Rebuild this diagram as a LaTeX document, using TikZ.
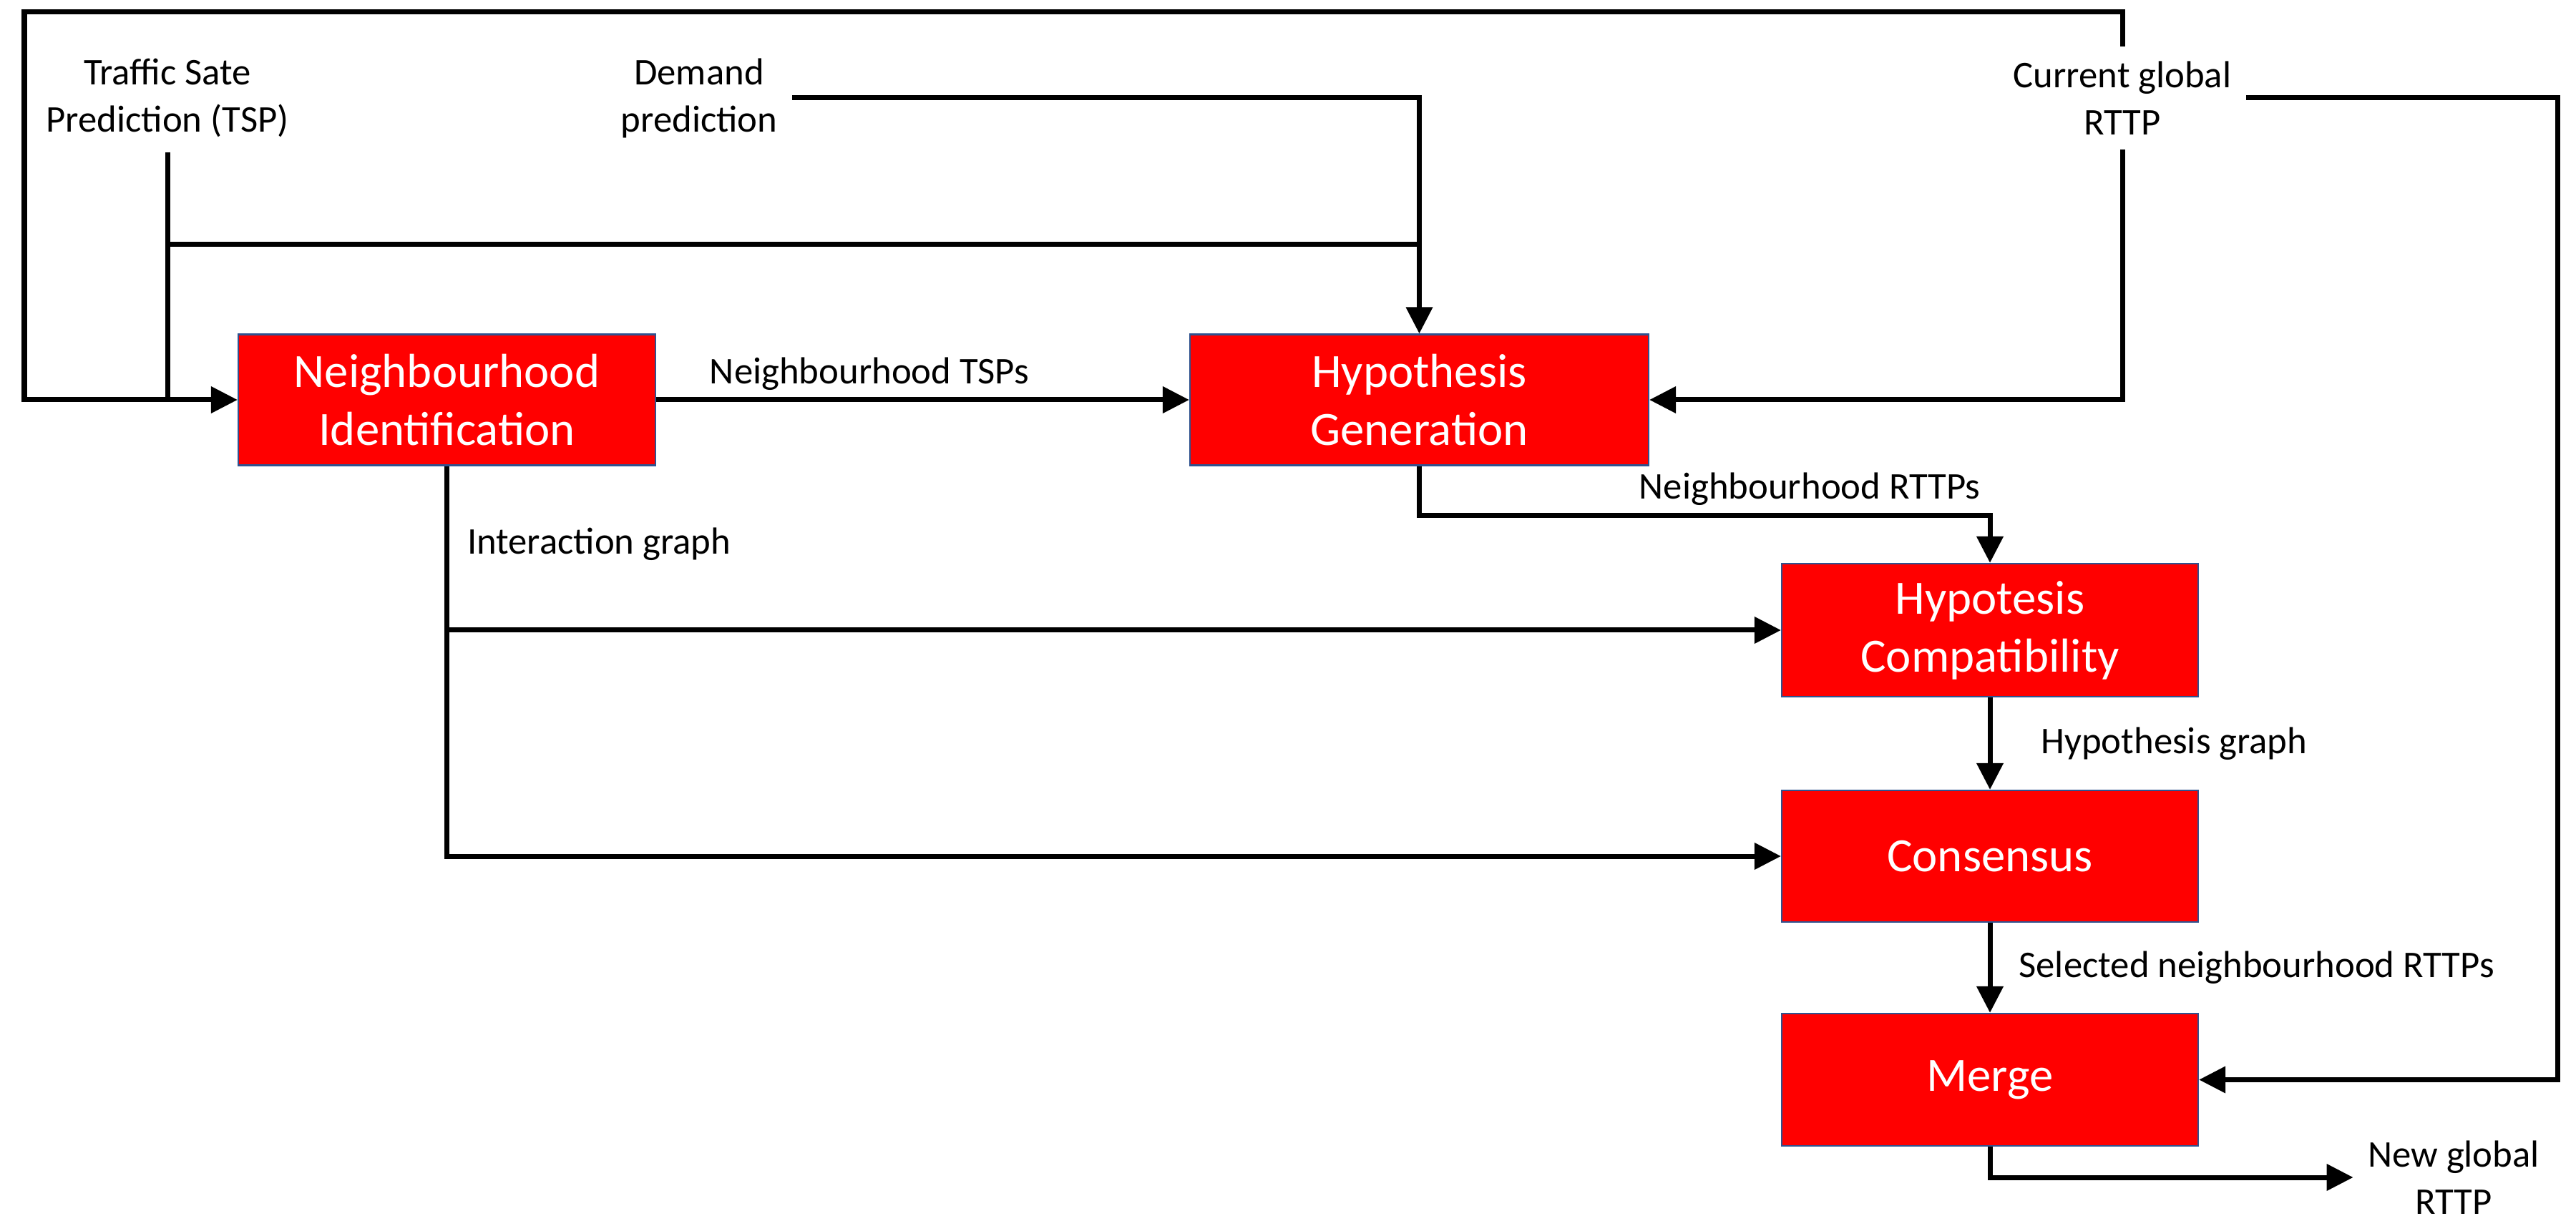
\documentclass[tikz,border=0pt]{standalone}
\usepackage{fontspec}
\setmainfont{Carlito}
\usetikzlibrary{arrows.meta}
\definecolor{boxred}{RGB}{255,0,0}
\definecolor{boxline}{RGB}{47,82,143}
\begin{document}
\begin{tikzpicture}[
  box/.style={draw=boxline,line width=0.6pt,fill=boxred,text=white,align=center,
    font=\fontsize{19}{23}\selectfont,minimum height=1.83cm,inner sep=0pt},
  tag/.style={font=\fontsize{15}{18.8}\selectfont,inner sep=0.1cm},
  lbl/.style={tag,align=center,inner sep=0.2cm},
  line/.style={line width=0.07cm},
  flow/.style={line,-{Triangle[length=0.37cm,width=0.36cm]}}]
\useasboundingbox (0,0) rectangle (36,-17.07);
% process boxes
\node[box,minimum width=5.83cm] (ni) at (6.245,-5.59) {Neighbourhood\\Identification};
\node[box,minimum width=6.41cm] (hg) at (19.835,-5.59) {Hypothesis\\Generation};
\node[box,minimum width=5.82cm,minimum height=1.86cm] (hc) at (27.81,-8.81) {Hypotesis\\Compatibility};
\node[box,minimum width=5.82cm,minimum height=1.84cm] (cons) at (27.81,-11.97) {Consensus};
\node[box,minimum width=5.82cm,minimum height=1.85cm] (merge) at (27.81,-15.095) {Merge};
% inputs and output
\node[lbl] (tsp) at (2.34,-1.37) {Traffic Sate\\Prediction (TSP)};
\node[lbl] (dem) at (9.77,-1.37) {Demand\\prediction};
\node[lbl] (cur) at (29.66,-1.37) {Current global\\RTTP};
\node[lbl] (new) at (34.29,-16.46) {New global\\RTTP};
\coordinate (tl) at (0.34,-0.17);
\coordinate (tr) at (35.74,-1.37);
\coordinate (tj) at (hg.north |- 0,-3.42);
% connectors
\draw[flow] (dem) -| (hg);
\draw[line] (tsp.south) |- (tj);
\draw[line] (tsp.south) -- (tsp.south |- ni.west);
\draw[flow] (cur.north) |- (tl) |- (ni.west);
\draw[flow] (cur.south) |- (hg.east);
\draw[flow] (cur.east) -- (tr) |- (merge.east);
\draw[flow] (ni) -- node[tag,above,pos=0.4] {Neighbourhood TSPs} (hg);
\draw[flow] (hg.south) -- ++(0,-0.69) -| node[tag,above left,pos=0.5] {Neighbourhood RTTPs} (hc.north);
\draw[flow] (ni.south) |- node[tag,right=0.15cm,pos=0.1] {Interaction graph} (cons.west);
\draw[flow] (ni.south |- hc.west) -- (hc.west);
\draw[flow] (hc) -- node[tag,right=0.58cm] {Hypothesis graph} (cons);
\draw[flow] (cons) -- node[tag,right=0.27cm] {Selected neighbourhood RTTPs} (merge);
\draw[flow] (merge.south) |- (new.west);
\end{tikzpicture}
\end{document}
